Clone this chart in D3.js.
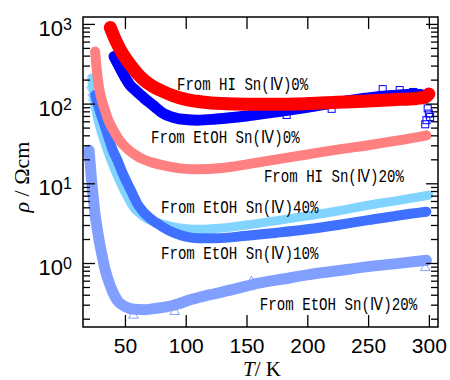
<!DOCTYPE html>
<html>
<head>
<meta charset="utf-8">
<script src="https://cdn.jsdelivr.net/npm/d3@7"></script>
<style>
  body { margin: 0; background: #fff; }
</style>
</head>
<body>
<svg width="450" height="380"></svg>
<script>
/* ===============================
   Data (T in K, rho in Ohm cm)
   =============================== */
// From HI Sn(IV) 0%
const tHI0   = [38, 42, 46, 50, 55, 60, 66, 72, 80, 90, 100, 115, 130, 150, 175, 200, 225, 250, 270, 290, 297, 300];
const rhoHI0 = [900, 640, 480, 380, 300, 240, 195, 168, 145, 125, 113, 104, 100, 98, 98, 100, 104, 108, 112, 116, 121, 132];

// From EtOH Sn(IV) 0%
const tEt0   = [41, 44, 47, 50, 54, 58, 62, 66, 70, 75, 80, 90, 100, 110, 125, 150, 175, 200, 225, 250, 270, 290, 297];
const rhoEt0 = [390, 320, 260, 215, 172, 150, 132, 116, 104, 90, 78, 67, 63, 62, 64, 70, 79, 90, 104, 118, 126, 131, 126];
const tEt0Out   = [183, 220, 262, 276, 287, 299, 300, 298, 301, 297];
const rhoEt0Out = [72, 86, 152, 148, 140, 87, 75, 62, 68, 55];

// From HI Sn(IV) 20%
const tHI20   = [25.5, 27, 28.5, 30.5, 33, 36, 40, 46, 52, 58, 65, 72, 80, 95, 110, 130, 150, 175, 200, 225, 250, 275, 298];
const rhoHI20 = [450, 250, 165, 118, 88, 64, 48, 34, 27, 23, 20, 18.3, 17, 15.4, 15, 15.6, 17.3, 20, 23, 26.5, 30, 34.5, 40];

// From EtOH Sn(IV) 40%
const tEt40   = [22.7, 24, 25.5, 27, 29.5, 32.7, 36.3, 40.4, 44.7, 48.7, 52.7, 57, 62, 68, 80, 95, 110, 130, 150, 175, 200, 225, 250, 275, 300];
const rhoEt40 = [210, 140, 100, 72, 50, 35, 24, 16.5, 11.5, 8.5, 6.5, 5.0, 4.2, 3.6, 3.1, 2.75, 2.65, 2.75, 3.0, 3.4, 3.9, 4.5, 5.3, 6.1, 7.1];
const tEt40Out   = [22.5, 23.5, 24, 25];
const rhoEt40Out = [150, 120, 105, 85];

// From EtOH Sn(IV) 10%
const tEt10   = [25.5, 28, 30, 32.8, 36, 39.6, 43.7, 48, 52, 56, 60, 65, 71, 80, 90, 100, 110, 125, 150, 175, 200, 225, 250, 275, 298];
const rhoEt10 = [128, 95, 75, 56, 40, 27, 19.6, 13.5, 10, 7.5, 5.6, 4.4, 3.6, 2.9, 2.4, 2.15, 2.05, 2.05, 2.2, 2.4, 2.65, 3.0, 3.45, 3.95, 4.4];

// From EtOH Sn(IV) 20%
const tEt20   = [20.5, 21.5, 22.5, 24, 25.5, 27, 28.7, 31.4, 33.5, 38.3, 43.7, 50, 58, 66, 76, 90, 105, 120, 140, 160, 180, 200, 225, 250, 275, 298];
const rhoEt20 = [26, 17, 11, 6.5, 4.0, 2.8, 1.94, 1.2, 0.85, 0.5, 0.34, 0.285, 0.262, 0.26, 0.27, 0.295, 0.35, 0.40, 0.47, 0.56, 0.63, 0.71, 0.8, 0.9, 0.99, 1.08];
const tEt20Out   = [57, 91, 154, 297];
const rhoEt20Out = [0.22, 0.245, 0.58, 0.87];

// Ticks
const xTickVals  = [50, 100, 150, 200, 250, 300];
const yMajorVals = [1, 10, 100, 1000];
const yExponents = ["0", "1", "2", "3"];
const yMinorVals = [0.2, 0.3, 0.4, 0.5, 0.6, 0.7, 0.8, 0.9,
                    2, 3, 4, 5, 6, 7, 8, 9,
                    20, 30, 40, 50, 60, 70, 80, 90,
                    200, 300, 400, 500, 600, 700, 800, 900];

// Annotations: text, anchor T, anchor rho (baseline, left)
const noteTexts = ["From HI Sn(Ⅳ)0%", "From EtOH Sn(Ⅳ)0%", "From HI Sn(Ⅳ)20%",
                   "From EtOH Sn(Ⅳ)40%", "From EtOH Sn(Ⅳ)10%", "From EtOH Sn(Ⅳ)20%"];
const noteT     = [92.8, 71.4, 164.3, 79.6, 79.6, 160.9];
const noteRho   = [148, 32, 10.4, 4.24, 1.12, 0.257];

/* ===============================
   Scales
   =============================== */
let svg = d3.select("svg");
let plotL = 83, plotR = 438, plotT = 17, plotB = 327;

let x = d3.scaleLinear().domain([15.5, 307.5]).range([plotL, plotR]);
let y = d3.scaleLog().domain([0.1574, 1221]).range([plotB, plotT]);

svg.append("defs").append("clipPath").attr("id", "plot")
    .append("rect")
    .attr("x", plotL).attr("y", plotT)
    .attr("width", plotR - plotL).attr("height", plotB - plotT);

let plot = svg.append("g").attr("clip-path", "url(#plot)");

let line = d3.line()
    .x(d => x(d[0]))
    .y(d => y(d[1]))
    .curve(d3.curveMonotoneX);

function band(ts, rhos, color, width) {
    plot.append("path")
        .datum(d3.zip(ts, rhos))
        .attr("d", line)
        .attr("fill", "none")
        .attr("stroke", color)
        .attr("stroke-width", width)
        .attr("stroke-linecap", "round")
        .attr("stroke-linejoin", "round");
}

/* ===============================
   Curves (back to front)
   =============================== */
band(tEt20, rhoEt20, "#809fff", 11);
plot.selectAll(".tri").data(d3.zip(tEt20Out, rhoEt20Out)).join("path")
    .attr("d", d3.symbol(d3.symbolTriangle, 40))
    .attr("transform", d => `translate(${x(d[0])},${y(d[1])})`)
    .attr("fill", "none").attr("stroke", "#809fff").attr("stroke-width", 1);

band(tEt40, rhoEt40, "#80d4ff", 9);
plot.selectAll(".dtri").data(d3.zip(tEt40Out, rhoEt40Out)).join("path")
    .attr("d", d3.symbol(d3.symbolTriangle, 40))
    .attr("transform", d => `translate(${x(d[0])},${y(d[1])}) rotate(180)`)
    .attr("fill", "none").attr("stroke", "#80d4ff").attr("stroke-width", 1);

band(tEt10, rhoEt10, "#4070ff", 10);
band(tHI20, rhoHI20, "#ff8080", 10);

band(tEt0, rhoEt0, "#0000ff", 11);
plot.selectAll(".sq").data(d3.zip(tEt0Out, rhoEt0Out)).join("rect")
    .attr("x", d => x(d[0]) - 3.5)
    .attr("y", d => y(d[1]) - 3.5)
    .attr("width", 7).attr("height", 7)
    .attr("fill", "none").attr("stroke", "#0000ff").attr("stroke-width", 1);

band(tHI0, rhoHI0, "#ff0000", 13);

/* ===============================
   Annotations
   =============================== */
svg.selectAll(".note").data(noteTexts).join("text")
    .attr("x", (d, i) => x(noteT[i]))
    .attr("y", (d, i) => y(noteRho[i]))
    .attr("textLength", d => d.length * 8.75)
    .attr("lengthAdjust", "spacingAndGlyphs")
    .attr("font-family", "'Liberation Mono', monospace")
    .attr("font-size", 18)
    .attr("fill", "#000")
    .text(d => d);

/* ===============================
   Axes
   =============================== */
function styleAxis(g) {
    g.select(".domain").remove();
    g.selectAll(".tick line").attr("stroke", "#000").attr("stroke-width", 1.3);
}

svg.append("g")
    .attr("transform", `translate(0,${plotB})`)
    .call(d3.axisBottom(x).tickValues(xTickVals).tickSize(-12).tickPadding(11))
    .call(styleAxis)
    .call(g => g.selectAll("text")
        .attr("font-family", "'Liberation Sans', Arial, sans-serif")
        .attr("font-size", 21)
        .attr("fill", "#000"));

svg.append("g")
    .attr("transform", `translate(0,${plotT})`)
    .call(d3.axisTop(x).tickValues(xTickVals).tickSize(-12).tickFormat(""))
    .call(styleAxis);

svg.append("g")
    .attr("transform", `translate(${plotL},0)`)
    .call(d3.axisLeft(y).tickValues(yMajorVals).tickSize(-12).tickFormat(""))
    .call(styleAxis);
svg.append("g")
    .attr("transform", `translate(${plotL},0)`)
    .call(d3.axisLeft(y).tickValues(yMinorVals).tickSize(-7).tickFormat(""))
    .call(styleAxis);
svg.append("g")
    .attr("transform", `translate(${plotR},0)`)
    .call(d3.axisRight(y).tickValues(yMajorVals).tickSize(-12).tickFormat(""))
    .call(styleAxis);
svg.append("g")
    .attr("transform", `translate(${plotR},0)`)
    .call(d3.axisRight(y).tickValues(yMinorVals).tickSize(-7).tickFormat(""))
    .call(styleAxis);

// y tick labels 10^n
let yLab = svg.selectAll(".ylab").data(yMajorVals).join("text")
    .attr("x", 72)
    .attr("y", d => y(d) + 12)
    .attr("text-anchor", "end")
    .attr("font-family", "'Liberation Sans', Arial, sans-serif")
    .attr("fill", "#000");
yLab.append("tspan").attr("font-size", 22).text("10");
yLab.append("tspan").attr("font-size", 16).attr("dy", -6).text((d, i) => yExponents[i]);

// frame
svg.append("rect")
    .attr("x", plotL).attr("y", plotT)
    .attr("width", plotR - plotL).attr("height", plotB - plotT)
    .attr("fill", "none")
    .attr("stroke", "#000")
    .attr("stroke-width", 1.5);

/* ===============================
   Axis titles
   =============================== */
let xTitle = svg.append("text")
    .attr("x", 262).attr("y", 376)
    .attr("text-anchor", "middle")
    .attr("font-family", "'Liberation Serif', 'Times New Roman', serif")
    .attr("font-size", 21)
    .attr("fill", "#000");
xTitle.append("tspan").attr("font-style", "italic").text("T");
xTitle.append("tspan").text("/ K");

let yTitle = svg.append("text")
    .attr("transform", "translate(29,177) rotate(-90)")
    .attr("text-anchor", "middle")
    .attr("font-family", "'Liberation Serif', 'Times New Roman', serif")
    .attr("font-size", 22)
    .attr("fill", "#000");
yTitle.append("tspan").attr("font-style", "italic").text("ρ");
yTitle.append("tspan").text(" / Ωcm");
</script>
</body>
</html>
